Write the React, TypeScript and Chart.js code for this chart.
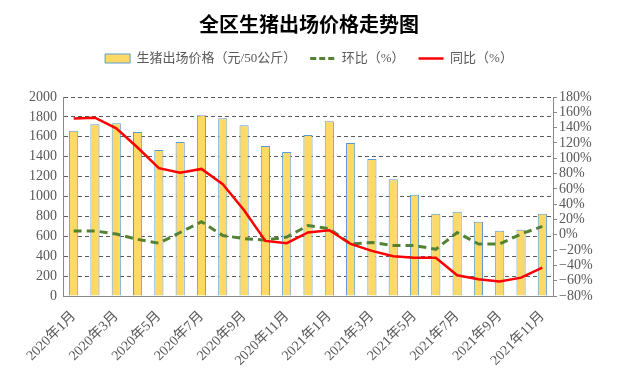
import React, { useEffect, useRef } from "react";
import { Chart, registerables } from "chart.js";

Chart.register(...registerables);

const months = [
  "2020年1月", "2020年2月", "2020年3月", "2020年4月", "2020年5月", "2020年6月",
  "2020年7月", "2020年8月", "2020年9月", "2020年10月", "2020年11月", "2020年12月",
  "2021年1月", "2021年2月", "2021年3月", "2021年4月", "2021年5月", "2021年6月",
  "2021年7月", "2021年8月", "2021年9月", "2021年10月", "2021年11月",
];
const price = [1660, 1727, 1737, 1647, 1467, 1547, 1817, 1787, 1717, 1507, 1447, 1617, 1757, 1537, 1377, 1173, 1017, 827, 847, 747, 657, 667, 827];
const mom = [5, 5, 1, -6, -11, 3, 17, -1, -5, -7, -3, 12, 8, -12, -10, -14, -14, -19, 3, -12, -12, 1, 11];
const yoy = [152, 153, 139, 114, 87, 81, 86, 66, 32, -8, -11, 3, 6, -12, -21, -28, -30, -30, -53, -58, -61, -56, -43];

const seriesNames = ["生猪出场价格（元/50公斤）", "环比（%）", "同比（%）"];
const chartTitle = "全区生猪出场价格走势图";

const SERIF = "'Liberation Serif', 'Times New Roman', 'Noto Sans CJK SC', serif";
const TEXT = "#595959";

export default function App() {
  const ref = useRef<HTMLCanvasElement | null>(null);
  useEffect(() => {
    document.body.style.margin = "0";
    const canvas = ref.current;
    if (!canvas) return;
    const chart = new Chart(canvas, {
      type: "bar",
      data: {
        labels: months,
        datasets: [
          {
            type: "bar",
            label: seriesNames[0],
            data: price,
            backgroundColor: "#FFD966",
            borderColor: "#5B9BD5",
            borderWidth: 1,
            barPercentage: 0.43,
            categoryPercentage: 1,
            yAxisID: "y",
            order: 3,
          },
          {
            type: "line",
            label: seriesNames[1],
            data: mom,
            borderColor: "#548235",
            backgroundColor: "#548235",
            borderWidth: 3,
            borderDash: [8, 5],
            pointRadius: 0,
            tension: 0,
            yAxisID: "y1",
            order: 2,
          },
          {
            type: "line",
            label: seriesNames[2],
            data: yoy,
            borderColor: "#FF0000",
            backgroundColor: "#FF0000",
            borderWidth: 2.5,
            pointRadius: 0,
            tension: 0,
            yAxisID: "y1",
            order: 1,
          },
        ],
      },
      options: {
        responsive: false,
        animation: false,
        layout: { padding: { left: 0, right: 0, top: 0, bottom: 0 } },
        plugins: {
          tooltip: { enabled: false },
          title: {
            display: true,
            text: chartTitle,
            color: "#000000",
            font: { family: "'Noto Sans CJK SC', sans-serif", size: 20, weight: "bold" },
            padding: { top: 12, bottom: 2 },
          },
          legend: {
            display: true,
            labels: {
              usePointStyle: true,
              pointStyleWidth: 25,
              boxHeight: 9,
              padding: 14,
              color: TEXT,
              font: { family: SERIF, size: 13 },
              generateLabels: (c: any) =>
                c.data.datasets.map((ds: any, i: number) => ({
                  text: ds.label,
                  datasetIndex: i,
                  hidden: !c.isDatasetVisible(i),
                  fillStyle: i === 0 ? "#FFD966" : ds.borderColor,
                  strokeStyle: i === 0 ? "#5B9BD5" : ds.borderColor,
                  lineWidth: i === 0 ? 1 : i === 1 ? 3 : 2.5,
                  lineDash: i === 1 ? [6, 3] : [],
                  pointStyle: i === 0 ? "rect" : "line",
                  fontColor: TEXT,
                })),
            },
          },
        },
        scales: {
          xTop: {
            type: "category",
            position: "top",
            display: true,
            grid: { display: false },
            border: { display: false },
            ticks: { display: false },
            afterFit: (s: any) => {
              s.height = 22;
            },
          },
          x: {
            type: "category",
            offset: true,
            grid: { display: false },
            border: { display: true, color: "#898989", width: 1 },
            ticks: {
              autoSkip: false,
              maxRotation: 45,
              minRotation: 45,
              color: TEXT,
              padding: 4,
              font: { family: SERIF, size: 14 },
              callback: (_v: any, i: number) => (i % 2 === 0 ? months[i] : ""),
            },
            afterFit: (s: any) => {
              s.height = 91;
            },
          },
          y: {
            position: "left",
            min: 0,
            max: 2000,
            grid: { color: "#595959", lineWidth: 1, drawTicks: false },
            border: { display: true, color: "#898989", width: 1, dash: [4, 3] },
            ticks: {
              stepSize: 200,
              autoSkip: false,
              color: TEXT,
              padding: 6,
              font: { family: SERIF, size: 14 },
              callback: (v: any) => String(v),
            },
            afterFit: (s: any) => {
              s.width = 63;
            },
          },
          y1: {
            position: "right",
            min: -80,
            max: 180,
            grid: { drawOnChartArea: false, drawTicks: true, tickLength: 4, color: "#898989" },
            border: { display: true, color: "#898989", width: 1 },
            ticks: {
              stepSize: 20,
              autoSkip: false,
              color: TEXT,
              padding: 2,
              font: { family: SERIF, size: 14 },
              callback: (v: any) => (Number(v) < 0 ? "\u2212" + Math.abs(Number(v)) : String(v)) + "%",
            },
            afterFit: (s: any) => {
              s.width = 65;
            },
          },
        },
      },
    } as any);
    return () => chart.destroy();
  }, []);
  return (
    <div style={{ position: "absolute", left: 0, top: 0, width: 618, height: 387, background: "#fff" }}>
      <canvas ref={ref} width={618} height={387} />
    </div>
  );
}
